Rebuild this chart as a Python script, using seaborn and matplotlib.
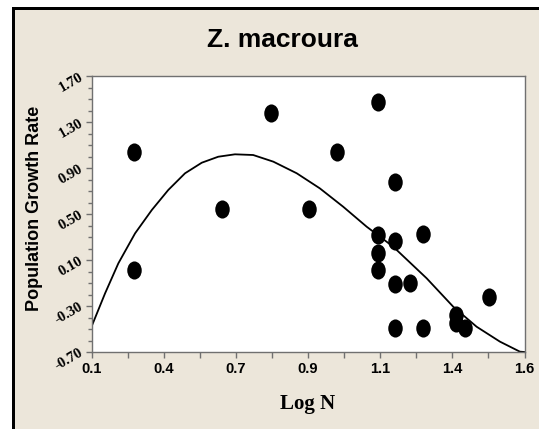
import numpy as np
import matplotlib
matplotlib.use("Agg")
import matplotlib.pyplot as plt
from matplotlib.patches import Rectangle
from matplotlib.path import Path
from matplotlib.transforms import Affine2D
import seaborn as sns

# dados
log_n = [0.247, 0.247, 0.551, 0.721, 0.854, 0.949, 1.093, 1.151, 1.093, 1.151, 1.247,
         1.093, 1.093, 1.151, 1.203, 1.478, 1.363, 1.363, 1.394, 1.151, 1.247]
taxa = [1.039, 0.013, 0.541, 1.376, 0.541, 1.039, 1.477, 0.781, 0.317, 0.268, 0.326,
        0.158, 0.013, -0.111, -0.097, -0.224, -0.378, -0.451, -0.494, -0.494, -0.494]

# curva ajustada (pontos lidos ao longo da linha)
curva_x = [0.100, 0.147, 0.193, 0.251, 0.309, 0.366, 0.424, 0.482, 0.539, 0.597, 0.660,
           0.730, 0.811, 0.891, 0.972, 1.053, 1.145, 1.261, 1.353, 1.434, 1.515, 1.584, 1.600]
curva_y = [-0.480, -0.190, 0.071, 0.332, 0.535, 0.709, 0.854, 0.946, 0.998, 1.019, 1.013,
           0.955, 0.854, 0.723, 0.563, 0.390, 0.216, -0.059, -0.306, -0.480, -0.610, -0.697, -0.700]

x_ticks = [0.1, 0.35, 0.6, 0.85, 1.1, 1.35, 1.6]
x_labels = ['0.1', '0.4', '0.7', '0.9', '1.1', '1.4', '1.6']
y_ticks = [-0.70, -0.30, 0.10, 0.50, 0.90, 1.30, 1.70]
y_labels = ['-0.70', '-0.30', '0.10', '0.50', '0.90', '1.30', '1.70']

sns.set_style("ticks")
plt.rcParams['font.family'] = ['Liberation Sans', 'DejaVu Sans']
plt.rcParams['text.color'] = 'black'
plt.rcParams['xtick.labelcolor'] = 'black'
plt.rcParams['ytick.labelcolor'] = 'black'

W, H = 539, 429
fig = plt.figure(figsize=(W / 100, H / 100), dpi=100)
fig.patch.set_facecolor('white')

# moldura bege com borda preta à esquerda e em cima
bege = '#ECE6DA'
fig.patches.append(Rectangle((12 / W, 0), 1 - 12 / W, 1 - 7 / H, transform=fig.transFigure,
                             facecolor=bege, edgecolor='none', zorder=-3))
fig.patches.append(Rectangle((12 / W, 0), 3 / W, 1 - 7 / H, transform=fig.transFigure,
                             facecolor='black', edgecolor='none', zorder=-2))
fig.patches.append(Rectangle((12 / W, 1 - 10 / H), 1 - 12 / W, 3 / H, transform=fig.transFigure,
                             facecolor='black', edgecolor='none', zorder=-2))

ax = fig.add_axes([91.5 / W, 1 - 352 / H, 433 / W, 276 / H])
ax.set_facecolor('white')

# marcador elíptico (mais alto que largo)
elipse = Path.unit_circle().transformed(Affine2D().scale(0.8, 1.0))

sns.lineplot(x=curva_x, y=curva_y, ax=ax, color='black', lw=1.3, sort=False, estimator=None)
sns.scatterplot(x=log_n, y=taxa, ax=ax, marker=elipse, s=170, color='black',
                edgecolor='black', linewidth=0, zorder=3)

ax.set_xlim(0.1, 1.6)
ax.set_ylim(-0.70, 1.70)

ax.set_xticks(x_ticks)
ax.set_xticklabels(x_labels, fontsize=10.5, fontweight='bold', family=['Liberation Sans'])
ax.set_xticks(np.arange(0.225, 1.6, 0.25), minor=True)
ax.set_yticks(y_ticks)
ax.set_yticklabels(y_labels, fontsize=10.5, fontweight='bold', family=['Liberation Serif'],
                   rotation=30, rotation_mode='anchor', ha='right', va='center')
ax.set_yticks(np.arange(-0.6, 1.65, 0.1), minor=True)

cinza = '#707070'
for s in ax.spines.values():
    s.set_color(cinza)
    s.set_linewidth(1.0)
ax.tick_params(axis='both', which='major', length=4, width=1, color=cinza, pad=3)
ax.tick_params(axis='x', which='minor', length=4, width=1, color=cinza)
ax.tick_params(axis='y', which='minor', length=3, width=1, color=cinza)
ax.set_xlabel('')
ax.set_ylabel('')

fig.text(282 / W, 1 - 40 / H, 'Z. macroura', ha='center', va='center',
         fontsize=19, fontweight='bold', color='black')
fig.text(35 / W, 1 - 208 / H, 'Population Growth Rate', ha='center', va='center',
         rotation=90, fontsize=13, fontweight='bold', color='black')
fig.text(308 / W, 1 - 404 / H, 'Log N', ha='center', va='center',
         fontsize=15, fontweight='bold', family=['Liberation Serif'], color='black')

fig.savefig('out.png', dpi=100, facecolor=fig.get_facecolor())
